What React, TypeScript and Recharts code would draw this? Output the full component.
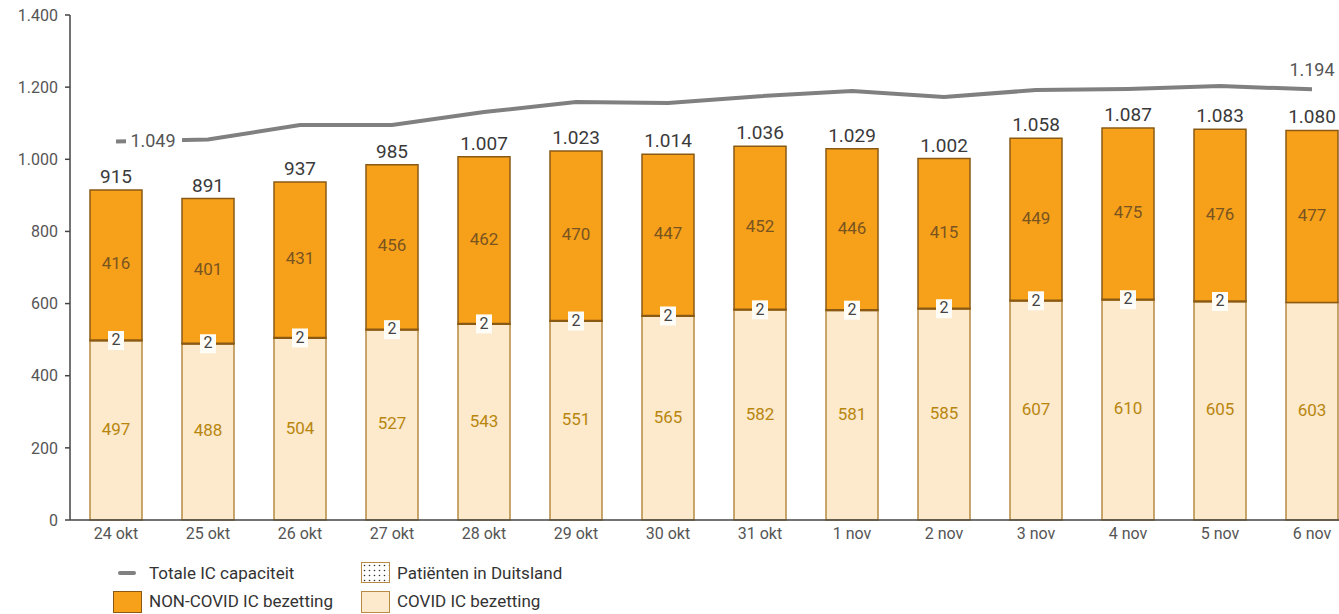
import { ComposedChart, Bar, Line, XAxis, YAxis, LabelList } from 'recharts'

const dagen = ['24 okt', '25 okt', '26 okt', '27 okt', '28 okt', '29 okt', '30 okt', '31 okt', '1 nov', '2 nov', '3 nov', '4 nov', '5 nov', '6 nov']
const covid = [497, 488, 504, 527, 543, 551, 565, 582, 581, 585, 607, 610, 605, 603]
const duitsland = [2, 2, 2, 2, 2, 2, 2, 2, 2, 2, 2, 2, 2, 0]
const nonCovid = [416, 401, 431, 456, 462, 470, 447, 452, 446, 415, 449, 475, 476, 477]
const capaciteit = [1049, 1055, 1095, 1095, 1131, 1159, 1156, 1175, 1189, 1173, 1192, 1195, 1203, 1194]
const yTicks = [0, 200, 400, 600, 800, 1000, 1200, 1400]

const data = dagen.map((dag, i) => ({
  dag,
  covid: covid[i],
  duitsland: duitsland[i],
  nonCovid: nonCovid[i],
  capaciteit: capaciteit[i],
  totaal: covid[i] + duitsland[i] + nonCovid[i],
}))

const FONT = 'Roboto, "Open Sans", sans-serif'
const fmt = (v: number) => v.toLocaleString('de-DE')

const ORANJE = '#F7A11A'
const ORANJE_RAND = '#8A5A14'
const LICHT = '#FDE9CB'
const LICHT_RAND = '#B88A44'
const LIJN = '#808080'

function TotaalLabel(props: any) {
  const { x, y, width, value } = props
  return (
    <text x={x + width / 2} y={y - 12} textAnchor="middle" dominantBaseline="middle" fontSize={19} fill="#3a3a3a" fontFamily={FONT}>
      {fmt(value)}
    </text>
  )
}

function MidLabel(color: string) {
  return (props: any) => {
    const { x, y, width, height, value } = props
    return (
      <text x={x + width / 2} y={y + height / 2} textAnchor="middle" dominantBaseline="middle" fontSize={17} fill={color} fontFamily={FONT}>
        {value}
      </text>
    )
  }
}

function DuitslandLabel(props: any) {
  const { x, y, width, value } = props
  if (!value) return null
  const cx = x + width / 2
  return (
    <g>
      <rect x={cx - 8} y={y - 9} width={16} height={19} fill="#FFFDF8" />
      <text x={cx} y={y + 1} textAnchor="middle" dominantBaseline="middle" fontSize={16} fill="#444" fontFamily={FONT}>
        {value}
      </text>
    </g>
  )
}

function LijnLabel(props: any) {
  const { x, y, value, index } = props
  if (index === 0) {
    return (
      <g>
        <rect x={x + 10} y={y - 11} width={56} height={22} fill="#fff" />
        <text x={x + 37} y={y + 1} textAnchor="middle" dominantBaseline="middle" fontSize={18} fill="#555" fontFamily={FONT}>
          {fmt(value)}
        </text>
      </g>
    )
  }
  if (index === dagen.length - 1) {
    return (
      <text x={x} y={y - 18} textAnchor="middle" dominantBaseline="middle" fontSize={18} fill="#555" fontFamily={FONT}>
        {fmt(value)}
      </text>
    )
  }
  return null
}

const legendText = { position: 'absolute' as const, fontSize: 17, color: '#333', lineHeight: '20px', whiteSpace: 'nowrap' as const }

export default function App() {
  return (
    <div style={{ position: 'absolute', left: 0, top: 0, width: 1339, height: 614, overflow: 'hidden', background: '#fff', fontFamily: FONT }}>
      <svg width={0} height={0} style={{ position: 'absolute' }}>
        <defs>
          <pattern id="stippen" width={5} height={5} patternUnits="userSpaceOnUse">
            <rect width={5} height={5} fill="#fff" />
            <circle cx={2.5} cy={2.5} r={0.8} fill="#333" />
          </pattern>
        </defs>
      </svg>
      <ComposedChart width={1360} height={614} data={data} margin={{ top: 15, right: 2, left: 0, bottom: 64 }}>
        <XAxis
          dataKey="dag"
          height={30}
          tickLine={false}
          axisLine={{ stroke: '#444', strokeWidth: 1.5 }}
          tick={{ fill: '#555', fontSize: 16, fontFamily: FONT }}
          interval={0}
        />
        <YAxis
          width={70}
          domain={[0, 1400]}
          ticks={yTicks}
          tickFormatter={fmt}
          tickSize={5}
          tickMargin={7}
          axisLine={{ stroke: '#444', strokeWidth: 1.5 }}
          tickLine={{ stroke: '#444', strokeWidth: 1.5 }}
          tick={{ fill: '#555', fontSize: 16, fontFamily: FONT }}
        />
        <Bar dataKey="covid" stackId="a" barSize={52} fill={LICHT} stroke={LICHT_RAND} strokeWidth={1.5} isAnimationActive={false}>
          <LabelList dataKey="covid" content={MidLabel('#B8860F')} />
        </Bar>
        <Bar dataKey="duitsland" stackId="a" barSize={52} fill="url(#stippen)" stroke={ORANJE_RAND} strokeWidth={1.5} isAnimationActive={false}>
          <LabelList dataKey="duitsland" content={DuitslandLabel} />
        </Bar>
        <Bar dataKey="nonCovid" stackId="a" barSize={52} fill={ORANJE} stroke={ORANJE_RAND} strokeWidth={1.5} isAnimationActive={false}>
          <LabelList dataKey="nonCovid" content={MidLabel('#7A5420')} />
          <LabelList dataKey="totaal" content={TotaalLabel} />
        </Bar>
        <Line dataKey="capaciteit" type="linear" stroke={LIJN} strokeWidth={4} dot={false} isAnimationActive={false}>
          <LabelList dataKey="capaciteit" content={LijnLabel} />
        </Line>
      </ComposedChart>

      {/* legenda */}
      <div style={{ position: 'absolute', left: 118, top: 571, width: 18, height: 4, background: LIJN, borderRadius: 2 }} />
      <div style={{ ...legendText, left: 149, top: 563 }}>Totale IC capaciteit</div>
      <div style={{ position: 'absolute', left: 361, top: 562, width: 27, height: 19, border: `1px solid ${LICHT_RAND}` }}>
        <svg width={27} height={19} style={{ display: 'block' }}>
          <rect width={27} height={19} fill="url(#stippen)" />
        </svg>
      </div>
      <div style={{ ...legendText, left: 397, top: 563 }}>Patiënten in Duitsland</div>
      <div style={{ position: 'absolute', left: 113, top: 591, width: 27, height: 20, border: `1.5px solid ${ORANJE_RAND}`, background: ORANJE }} />
      <div style={{ ...legendText, left: 149, top: 591 }}>NON-COVID IC bezetting</div>
      <div style={{ position: 'absolute', left: 361, top: 591, width: 27, height: 20, border: `1.5px solid ${LICHT_RAND}`, background: LICHT }} />
      <div style={{ ...legendText, left: 397, top: 591 }}>COVID IC bezetting</div>
    </div>
  )
}
